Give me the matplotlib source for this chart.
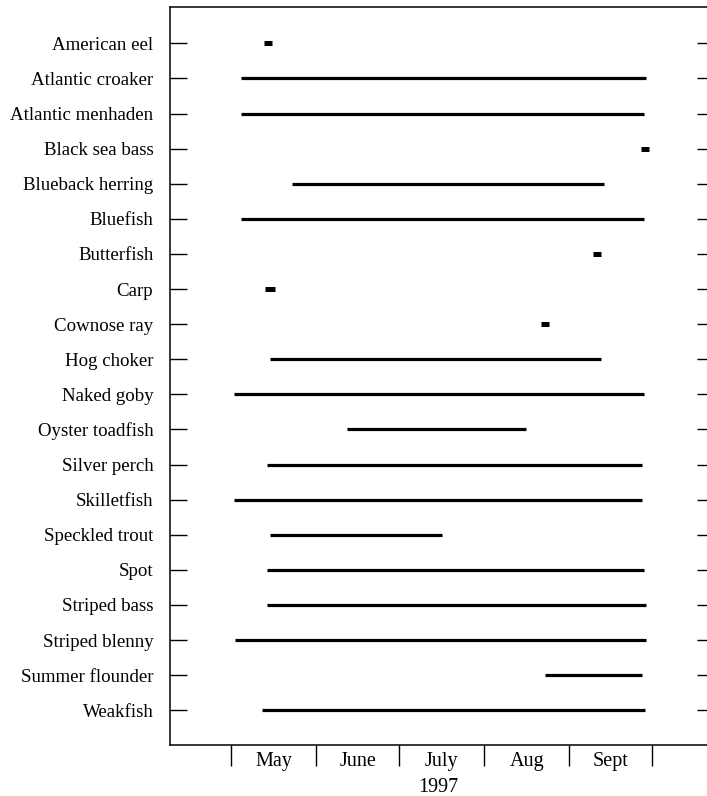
import matplotlib
matplotlib.use("Agg")
import matplotlib.pyplot as plt
import numpy as np

# Species observed, top to bottom
species = [
    "American eel", "Atlantic croaker", "Atlantic menhaden", "Black sea bass",
    "Blueback herring", "Bluefish", "Butterfish", "Carp", "Cownose ray",
    "Hog choker", "Naked goby", "Oyster toadfish", "Silver perch",
    "Skilletfish", "Speckled trout", "Spot", "Striped bass",
    "Striped blenny", "Summer flounder", "Weakfish",
]

# First and last day of occurrence, in days since 1 May 1997
first_day = [12.0, 3.5, 3.5, 149.0, 22.0, 3.5, 131.5, 12.5, 112.5,
             14.0, 1.2, 42.0, 13.2, 1.2, 14.0, 13.2, 13.2, 1.5, 114.0, 11.2]
last_day = [15.0, 151.0, 150.2, 152.0, 135.7, 150.2, 134.5, 16.0, 115.5,
            134.3, 150.2, 107.1, 149.4, 149.4, 76.8, 150.2, 150.8, 150.8, 149.4, 150.6]

# Month boundaries (days since 1 May) and labels
month_edges = [0, 31, 61, 92, 123, 153]
month_labels = ["May", "June", "July", "Aug", "Sept"]
year_label = "1997"

plt.rcParams["font.family"] = ["Liberation Serif", "DejaVu Serif"]

fig = plt.figure(figsize=(7.07, 7.96), dpi=100)
ax = fig.add_axes([0.2405, 0.064, 0.7595, 0.927])

y = np.arange(len(species))
for yi, a, b in zip(y, first_day, last_day):
    single = (b - a) < 5
    ax.plot([a, b], [yi, yi], color="black",
            lw=3.6 if single else 2.3, solid_capstyle="butt")

ax.set_xlim(-22.2, 173.0)
ax.set_ylim(19.99, -1.03)

ax.set_yticks(y)
ax.set_yticklabels(species, fontsize=13.6)
ax.tick_params(axis="y", direction="in", length=12, width=1.0, pad=12,
               left=True, right=False)

ax.set_xticks(month_edges)
ax.set_xticklabels([])
ax.tick_params(axis="x", which="major", direction="out", length=15, width=1.0)
centers = [(month_edges[i] + month_edges[i + 1]) / 2 for i in range(len(month_labels))]
ax.set_xticks(centers, minor=True)
ax.set_xticklabels(month_labels, minor=True, fontsize=14.5)
ax.tick_params(axis="x", which="minor", length=0, pad=5)
ax.set_xlabel(year_label, fontsize=14.5, labelpad=5)

for side in ["left", "top", "bottom"]:
    ax.spines[side].set_linewidth(1.1)
ax.spines["right"].set_visible(False)

# Short tick marks along the right edge
ax2 = ax.twinx()
ax2.set_ylim(ax.get_ylim())
ax2.set_yticks(y)
ax2.set_yticklabels([])
ax2.tick_params(axis="y", direction="in", length=7, width=1.0)
for s in ax2.spines.values():
    s.set_visible(False)

fig.savefig("out.png", dpi=100)
